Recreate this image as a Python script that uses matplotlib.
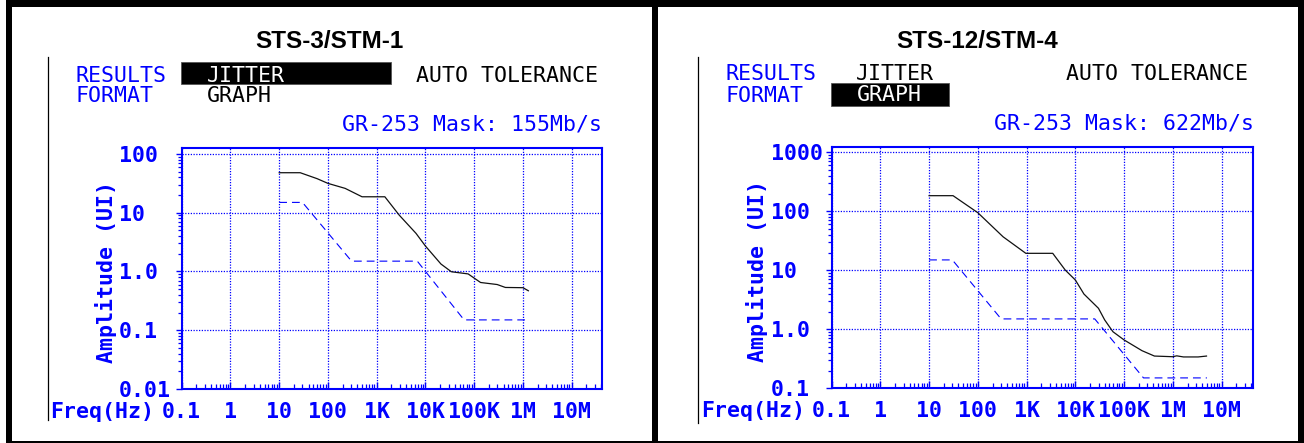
import matplotlib
matplotlib.use("Agg")
import matplotlib.pyplot as plt
from matplotlib.patches import Rectangle
from matplotlib.lines import Line2D
from matplotlib.ticker import LogLocator, NullFormatter, FixedLocator

# ---------------- data ----------------
x_ticks = [0.1, 1, 10, 100, 1e3, 1e4, 1e5, 1e6, 1e7]
x_ticklabels = ["0.1", "1", "10", "100", "1K", "10K", "100K", "1M", "10M"]

# STS-3 / STM-1 (155 Mb/s)
sts3_title = "STS-3/STM-1"
sts3_mask_label = "GR-253 Mask: 155Mb/s"
sts3_yticks = [0.01, 0.1, 1, 10, 100]
sts3_yticklabels = ["0.01", "0.1", "1.0", "10", "100"]
sts3_meas_freq = [10, 27, 60, 100, 225, 500, 1470, 2900, 6400, 10000, 20800,
                  34000, 75000, 135000, 296000, 436000, 1000000, 1290000]
sts3_meas_amp = [48, 48, 38, 31.6, 26, 18.7, 18.7, 9.1, 4.46, 2.71, 1.34,
                 0.99, 0.91, 0.65, 0.6, 0.535, 0.53, 0.47]
sts3_mask_freq = [10, 30, 305, 6800, 62000, 1100000]
sts3_mask_amp = [15, 15, 1.5, 1.5, 0.15, 0.15]

# STS-12 / STM-4 (622 Mb/s)
sts12_title = "STS-12/STM-4"
sts12_mask_label = "GR-253 Mask: 622Mb/s"
sts12_yticks = [0.1, 1, 10, 100, 1000]
sts12_yticklabels = ["0.1", "1.0", "10", "100", "1000"]
sts12_meas_freq = [10, 31, 100, 329, 964, 3436, 6200, 10000, 15000, 29800,
                   40000, 59000, 100000, 233000, 419000, 1000000, 1200000,
                   1650000, 3300000, 4900000]
sts12_meas_amp = [184, 184, 94.6, 37, 19.4, 19.4, 10.1, 6.85, 3.96, 2.27,
                  1.44, 0.91, 0.66, 0.434, 0.352, 0.343, 0.355, 0.34, 0.34, 0.352]
sts12_mask_freq = [10, 30, 300, 25000, 250000, 5000000]
sts12_mask_amp = [15, 15, 1.5, 1.5, 0.15, 0.15]

# ---------------- style ----------------
W, H = 1304, 443
BLUE = "#0000ff"
MONO = "DejaVu Sans Mono"
FS = 15.5

fig = plt.figure(figsize=(W / 100, H / 100), dpi=100)

ov = fig.add_axes([0, 0, 1, 1], zorder=5)
ov.set_xlim(0, W)
ov.set_ylim(H, 0)
ov.axis("off")

# frame borders
for (x, y, w, h) in [(6, 0, 1298, 6.7), (6, 0, 6, 443), (652, 0, 5.5, 443),
                     (1298, 0, 6, 443), (6, 441, 1298, 2)]:
    ov.add_patch(Rectangle((x, y), w, h, facecolor="black", edgecolor="none"))


def px_rect(x0, y0, x1, y1):
    return [x0 / W, (H - y1) / H, (x1 - x0) / W, (y1 - y0) / H]


def panel(ox, rect_px, ylim, yticks, yticklabels, ypad, ylab_x,
          mfreq, mamp, kfreq, kamp, title, mask_label, hl, hdr, vline):
    # header
    ov.text(ox + hdr["title_x"], 48.3, title, ha="center", va="baseline",
            fontsize=17.5, fontweight="bold", family="Liberation Sans", color="black")
    ov.add_line(Line2D([ox + vline[0]] * 2, [vline[1], vline[2]], color="black", lw=0.9))
    bx0, by0, bx1, by1 = hl
    ov.add_patch(Rectangle((ox + bx0, by0), bx1 - bx0, by1 - by0,
                           facecolor="black", edgecolor="#555555", lw=0.6))
    r1, r2 = hdr["row1"], hdr["row2"]
    ov.text(ox + hdr["lx"], r1, "RESULTS", color=BLUE, family=MONO, fontsize=FS, va="baseline")
    ov.text(ox + hdr["lx"], r2, "FORMAT", color=BLUE, family=MONO, fontsize=FS, va="baseline")
    ov.text(ox + hdr["jx"], r1, "JITTER", color=hdr["jc"], family=MONO, fontsize=FS, va="baseline")
    ov.text(ox + hdr["gx"], hdr["gy"], "GRAPH", color=hdr["gc"], family=MONO, fontsize=FS, va="baseline")
    ov.text(ox + hdr["ax"], r1, "AUTO TOLERANCE", color="black", family=MONO, fontsize=FS, va="baseline")
    ov.text(ox + hdr["mx"], hdr["my"], mask_label, color=BLUE, family=MONO, fontsize=FS,
            va="baseline", ha="right")
    ov.text(ox + hdr["fx"], hdr["fy"], "Freq(Hz)", color=BLUE, family=MONO, fontsize=FS,
            fontweight="bold", va="baseline", ha="left")

    x0, y0, x1, y1 = rect_px
    ax = fig.add_axes(px_rect(ox + x0, y0, ox + x1, y1))
    ax.set_xscale("log")
    ax.set_yscale("log")
    ax.set_xlim(0.1, 10 ** (-1 + (x1 - x0) / 48.75))
    ax.set_ylim(*ylim)

    ax.plot(mfreq, mamp, color=BLUE, lw=0.8, linestyle=(0, (7, 4.5)))
    ax.plot(kfreq, kamp, color="#111111", lw=0.9)

    ax.set_xticks(x_ticks, labels=x_ticklabels)
    ax.xaxis.set_minor_locator(LogLocator(base=10, subs=range(2, 10), numticks=30))
    ax.xaxis.set_minor_formatter(NullFormatter())
    ax.set_yticks(yticks, labels=yticklabels, ha="left")
    ax.yaxis.set_minor_locator(LogLocator(base=10, subs=range(2, 10), numticks=30))
    ax.yaxis.set_minor_formatter(NullFormatter())

    ax.tick_params(axis="x", which="major", direction="in", length=5, width=1,
                   color=BLUE, pad=9.1, labelsize=FS, labelcolor=BLUE)
    ax.tick_params(axis="x", which="minor", direction="in", length=3.5, width=0.9, color=BLUE)
    ax.tick_params(axis="y", which="major", direction="out", length=4.3, width=1,
                   color=BLUE, pad=ypad, labelsize=FS, labelcolor=BLUE)
    ax.tick_params(axis="y", which="minor", direction="out", length=2.9, width=0.9, color=BLUE)
    for lab in ax.get_xticklabels() + ax.get_yticklabels():
        lab.set_family(MONO)
        lab.set_fontweight("bold")

    ax.grid(True, which="major", color=BLUE, lw=0.9, linestyle=(0, (1, 1.2)))
    for sp in ax.spines.values():
        sp.set_color(BLUE)
        sp.set_linewidth(1.5)

    ax.set_ylabel("Amplitude (UI)", color=BLUE, family=MONO, fontsize=FS, fontweight="bold")
    ax.yaxis.set_label_coords(ylab_x, 0.486)
    return ax


panel(0, (181.7, 148, 601.7, 389), (0.01, 10 ** 2.102), sts3_yticks, sts3_yticklabels,
      41.1, -0.153, sts3_mask_freq, sts3_mask_amp, sts3_meas_freq, sts3_meas_amp,
      sts3_title, sts3_mask_label, (181, 62, 391, 84.3),
      dict(title_x=329.5, row1=81.7, row2=101.7, lx=75.5, jx=206.5, jc="white",
           gx=206.5, gy=101.7, gc="black", ax=416.5, mx=602, my=130, fx=50.5, fy=418),
      (47.5, 57, 420))

panel(652, (179.6, 146.7, 600.8, 388.3), (0.1, 10 ** 3.095), sts12_yticks, sts12_yticklabels,
      39.6, -0.150, sts12_mask_freq, sts12_mask_amp, sts12_meas_freq, sts12_meas_amp,
      sts12_title, sts12_mask_label, (178.8, 83.3, 297.3, 106),
      dict(title_x=325.4, row1=80, row2=101.7, lx=73.3, jx=204.3, jc="black",
           gx=205.2, gy=101, gc="white", ax=414.3, mx=601.5, my=129.3, fx=49.2, fy=416.7),
      (45.7, 57, 423))

fig.savefig("out.png", dpi=100, facecolor="white")
